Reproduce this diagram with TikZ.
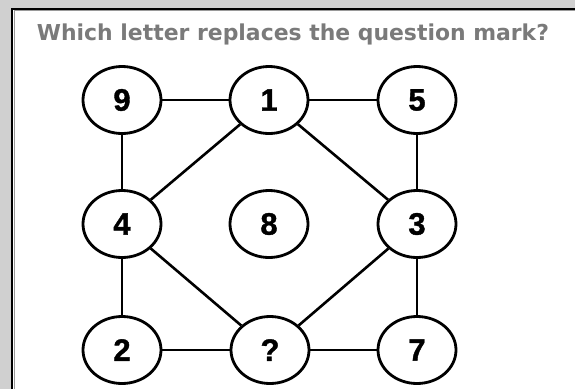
\documentclass[tikz,border=0pt]{standalone}
\usepackage{fontspec}
\setmainfont{Liberation Sans}
\newfontfamily\titlefont{DejaVu Sans}
\newfontfamily\digitfont[FakeBold=1.2]{Liberation Sans Bold}
\usetikzlibrary{shapes.geometric}
\definecolor{bggray}{HTML}{D0D0D0}
\definecolor{titlegray}{HTML}{7A7A7A}
\definecolor{edgegray}{HTML}{9A9A9A}
\newcommand{\digtxt}[1]{\digitfont\fontsize{31pt}{31pt}\selectfont #1}
\tikzset{
  num/.style={ellipse, draw=black, line width=2.8pt, fill=white,
    minimum width=78pt, minimum height=67pt, inner sep=0pt},
  link/.style={draw=black, line width=2.6pt}
}
\begin{document}
\begin{tikzpicture}[x=1pt,y=-1pt]
\useasboundingbox (0,0) rectangle (575,389);
\fill[bggray] (0,0) rectangle (575,389);
\fill[white] (12,8) rectangle (575,389);
\draw[edgegray, line width=1.5pt] (14.5,389) -- (14.5,10.5) -- (575,10.5);
\draw[black, line width=2pt] (12,389) -- (12,8.5) -- (575,8.5);
\node[anchor=base, text=titlegray, inner sep=0pt] (title) at (293,40)
  {\resizebox{512pt}{!}{\titlefont\bfseries Which letter replaces the question mark?}};
\node[num] (n9) at (122,100) {\digtxt{9}};
\node[num] (n1) at (269,100) {\digtxt{1}};
\node[num] (n5) at (417,100) {\digtxt{5}};
\node[num] (n4) at (122,224) {\digtxt{4}};
\node[num] (n8) at (269,224) {\digtxt{8}};
\node[num] (n3) at (417,224) {\digtxt{3}};
\node[num] (n2) at (122,350) {\digtxt{2}};
\node[num] (nq) at (270,350) {\digtxt{?}};
\node[num] (n7) at (417,350) {\digtxt{7}};
\draw[link] (n9) -- (n1);
\draw[link] (n1) -- (n5);
\draw[link] (n9) -- (n4);
\draw[link] (n5) -- (n3);
\draw[link] (n4) -- (n2);
\draw[link] (n3) -- (n7);
\draw[link] (n2) -- (nq);
\draw[link] (nq) -- (n7);
\draw[link] (n1) -- (n4);
\draw[link] (n1) -- (n3);
\draw[link] (n4) -- (nq);
\draw[link] (n3) -- (nq);
\end{tikzpicture}
\end{document}
